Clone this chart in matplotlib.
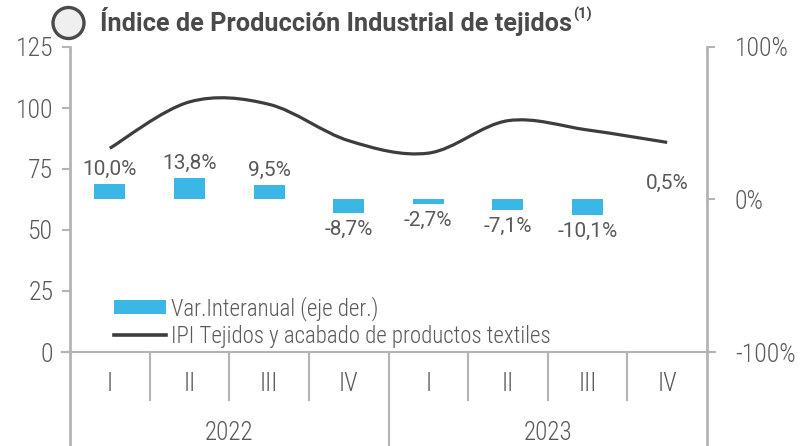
import matplotlib
matplotlib.use("Agg")
import matplotlib.pyplot as plt
import numpy as np
from matplotlib import font_manager
from matplotlib.path import Path
from matplotlib.patches import PathPatch, Patch, Circle
from matplotlib.lines import Line2D
import matplotlib.transforms as mtransforms

# data
quarters = ["I", "II", "III", "IV", "I", "II", "III", "IV"]
years = ["2022", "2023"]
ipi = [83.5, 102.5, 101.5, 86.6, 81.5, 94.8, 91.0, 85.9]
var_ia = [10.0, 13.8, 9.5, -8.7, -2.7, -7.1, -10.1, 0.5]

gray_txt = "#595959"
spine_col = "#b4b4b4"
bar_col = "#3ab7e5"
line_col = "#3d3d3f"

# pick a condensed face if one is installed
installed = {(f.name, f.stretch) for f in font_manager.fontManager.ttflist}
names = {n for n, _ in installed}
narrow = "DejaVu Sans"
stretch = "normal"
for cand in ["Roboto Condensed", "Liberation Sans Narrow", "Open Sans Condensed"]:
    if cand in names:
        narrow = cand
        break
else:
    for n, s in installed:
        if s in ("condensed", "semi-condensed", 75, 87.5) or "ondensed" in str(s):
            narrow, stretch = n, s
            break
font_kw = dict(family=[narrow, "DejaVu Sans"], stretch=stretch, weight="light")

fig = plt.figure(figsize=(8.02, 4.46), dpi=100)
ax = fig.add_axes([70 / 802, 1 - 352 / 446, 637 / 802, 305 / 446])
ax2 = ax.twinx()

x = np.arange(len(ipi))

# smoothed line (bezier through the data points, like excel)
pts = np.column_stack([x, ipi]).astype(float)
ext = np.vstack([pts[0], pts, pts[-1]])
verts = [tuple(pts[0])]
codes = [Path.MOVETO]
for i in range(len(pts) - 1):
    p0, p1, p2, p3 = ext[i], ext[i + 1], ext[i + 2], ext[i + 3]
    c1 = p1 + (p2 - p0) / 6
    c2 = p2 - (p3 - p1) / 6
    verts += [tuple(c1), tuple(c2), tuple(p2)]
    codes += [Path.CURVE4] * 3
ax.add_patch(PathPatch(Path(verts, codes), fill=False, edgecolor=line_col,
                       lw=2.3, capstyle="butt", zorder=3))

ax.set_xlim(-0.5, len(ipi) - 0.5)
ax.set_ylim(0, 125)
ax.set_yticks([0, 25, 50, 75, 100, 125])

# bars on right axis
vals = np.array(var_ia) / 100
ax2.bar(x, vals, width=0.39, color=bar_col, zorder=2)
ax2.set_ylim(-1, 1)
ax2.set_yticks([-1, 0, 1])
ax2.set_yticklabels(["-100%", "0%", "100%"])
for xi, v in zip(x, var_ia):
    lab = f"{v:.1f}%".replace(".", ",")
    if v >= 0:
        ax2.annotate(lab, (xi, v / 100), xytext=(0, 4), textcoords="offset points",
                     ha="center", va="bottom", fontsize=15, family="Roboto", color=gray_txt)
    else:
        ax2.annotate(lab, (xi, v / 100), xytext=(0, -5), textcoords="offset points",
                     ha="center", va="top", fontsize=15, family="Roboto", color=gray_txt)

for a in (ax, ax2):
    for s in a.spines.values():
        s.set_visible(False)
    a.tick_params(length=6, width=1.5, color=spine_col, labelsize=18.5, labelcolor=gray_txt)
    for t in a.get_yticklabels():
        t.set_family(font_kw["family"])
        t.set_stretch(stretch)
        t.set_weight("light")
ax.tick_params(pad=6)
ax2.tick_params(pad=14)
ax.set_xticks([])
ax2.set_xticks([])
ax.spines["left"].set_visible(True)
ax.spines["left"].set_color(spine_col)
ax.spines["left"].set_linewidth(2)
ax2.spines["right"].set_visible(True)
ax2.spines["right"].set_color(spine_col)
ax2.spines["right"].set_linewidth(2)

# category axis drawn below
tr = mtransforms.blended_transform_factory(ax.transData, ax.transAxes)
ax.plot([-0.6, 7.6], [0, 0], transform=tr, color=spine_col, lw=1.5, clip_on=False)
for b in np.arange(0.5, 7, 1):
    bottom = -0.308 if b == 3.5 else -0.157
    ax.plot([b, b], [0, bottom], transform=tr, color=spine_col, lw=1.5, clip_on=False)
for b in (-0.5, 7.5):
    ax.plot([b, b], [0, -0.308], transform=tr, color=spine_col, lw=2, clip_on=False)
for xi, q in zip(x, quarters):
    ax.text(xi, -0.105, q, transform=tr, ha="center", va="center",
            fontsize=18, color=gray_txt, **font_kw)
for k, yr in enumerate(years):
    ax.text(1.5 + 4 * k, -0.265, yr, transform=tr, ha="center", va="center",
            fontsize=18, color=gray_txt, **font_kw)

# legend
handles = [Patch(facecolor=bar_col, edgecolor="none"),
           Line2D([], [], color=line_col, lw=2.6)]
labels = ["Var.Interanual (eje der.)", "IPI Tejidos y acabado de productos textiles"]
leg = ax2.legend(handles, labels, loc="lower left", bbox_to_anchor=(0.036, -0.055),
                 frameon=False, handlelength=2.3, handleheight=0.6, handletextpad=0.2,
                 labelspacing=0.2,
                 prop=font_manager.FontProperties(family=font_kw["family"], stretch=stretch,
                                                  weight="light", size=16.5))
for t in leg.get_texts():
    t.set_color(gray_txt)

# title with icon
fig.patches.append(Circle((0.685, 4.46 - 0.23), 0.155, transform=fig.dpi_scale_trans,
                          facecolor="#efefef", edgecolor="#4a4a4a", lw=2.4))
title = fig.text(100 / 802, 1 - 22 / 446, "Índice de Producción Industrial de tejidos",
                 ha="left", va="center", fontsize=18.2, family="Roboto",
                 fontweight="bold", color="#4a4a4a")
bb = title.get_window_extent(renderer=fig.canvas.get_renderer())
fig.text(bb.x1 / 802 + 0.002, 1 - 14 / 446, "(1)", ha="left", va="center", fontsize=10.5,
         family="Roboto", fontweight="bold", color="#4a4a4a")

fig.savefig("out.png", dpi=100)
